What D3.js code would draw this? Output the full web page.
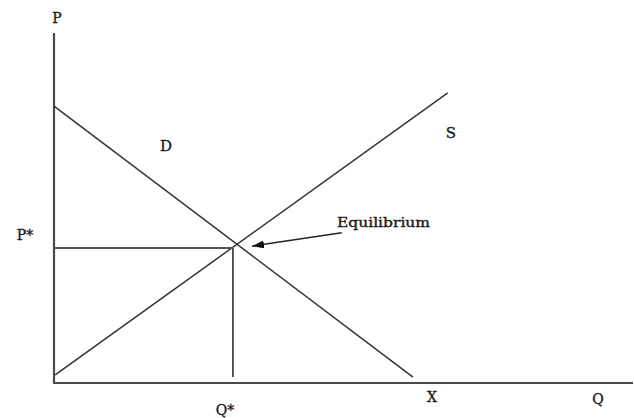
<!DOCTYPE html>
<html>
<head>
<meta charset="utf-8">
<script src="https://cdn.jsdelivr.net/npm/d3@7"></script>
<style>
  html, body { margin: 0; padding: 0; background: #fff; }
  svg { display: block; }
  text { font-family: "DejaVu Serif", "Liberation Serif", serif; fill: #1a1a1a; stroke: #1a1a1a; stroke-width: 0.35; }
</style>
</head>
<body>
<svg id="chart" width="634" height="418"></svg>
<script>
// ---- data (Q, P) in chart units ----
const demandCurve = [[0, 79.1], [62.0, 1.7]];
const supplyCurve = [[0.2, 2.3], [68.0, 82.9]];
const equilibriumQ = 30.9;
const equilibriumP = 38.6;
const floorP = 1.7;
const arrowFrom = [49.7, 42.9];
const arrowTo = [34.2, 39.1];
const axisLabels = ["P", "Q"];
const curveLabels = ["D", "S"];
const markerLabels = ["P*", "Q*", "X", "Equilibrium"];

const svg = d3.select("#chart");
const x = d3.scaleLinear().domain([0, 100]).range([54, 633]);
const y = d3.scaleLinear().domain([0, 100]).range([383, 33]);

const line = d3.line().x(d => x(d[0])).y(d => y(d[1]));

// axes
svg.append("path")
  .attr("d", line([[0, 100], [0, 0], [100, 0]]))
  .attr("fill", "none").attr("stroke", "#4a4a4a").attr("stroke-width", 2.2);

// curves
[demandCurve, supplyCurve].forEach(c => {
  svg.append("path").attr("d", line(c))
    .attr("fill", "none").attr("stroke", "#333").attr("stroke-width", 1.5);
});

// P* and Q* guides
svg.append("path")
  .attr("d", line([[0, equilibriumP], [equilibriumQ, equilibriumP]]))
  .attr("fill", "none").attr("stroke", "#555").attr("stroke-width", 2);
svg.append("path")
  .attr("d", line([[equilibriumQ, equilibriumP], [equilibriumQ, floorP]]))
  .attr("fill", "none").attr("stroke", "#333").attr("stroke-width", 1.6);

// arrow
svg.append("defs").append("marker")
  .attr("id", "ah").attr("viewBox", "0 0 12 8").attr("refX", 12).attr("refY", 4)
  .attr("markerWidth", 12).attr("markerHeight", 8).attr("markerUnits", "userSpaceOnUse")
  .attr("orient", "auto")
  .append("path").attr("d", "M0,0 L12,4 L0,8 Z").attr("fill", "#111");
svg.append("path")
  .attr("d", line([arrowFrom, arrowTo]))
  .attr("fill", "none").attr("stroke", "#222").attr("stroke-width", 1.5)
  .attr("marker-end", "url(#ah)");

// labels
function label(t, px, py, size, anchor) {
  svg.append("text").attr("x", px).attr("y", py)
    .attr("font-size", size).attr("text-anchor", anchor || "middle")
    .attr("dominant-baseline", "central").text(t);
}
label(axisLabels[0], 57, 18, 14);
label(axisLabels[1], 598, 399, 14);
label(curveLabels[0], 166, 146, 15);
label(curveLabels[1], 451, 133, 15);
label(markerLabels[0], 25, 235, 14);
label(markerLabels[1], 225, 410, 14);
label(markerLabels[2], 432, 397, 14);
svg.append("text").attr("x", 337).attr("y", 223)
  .attr("font-size", 12).attr("dominant-baseline", "central")
  .attr("textLength", 93).attr("lengthAdjust", "spacingAndGlyphs")
  .text(markerLabels[3]);
</script>
</body>
</html>
